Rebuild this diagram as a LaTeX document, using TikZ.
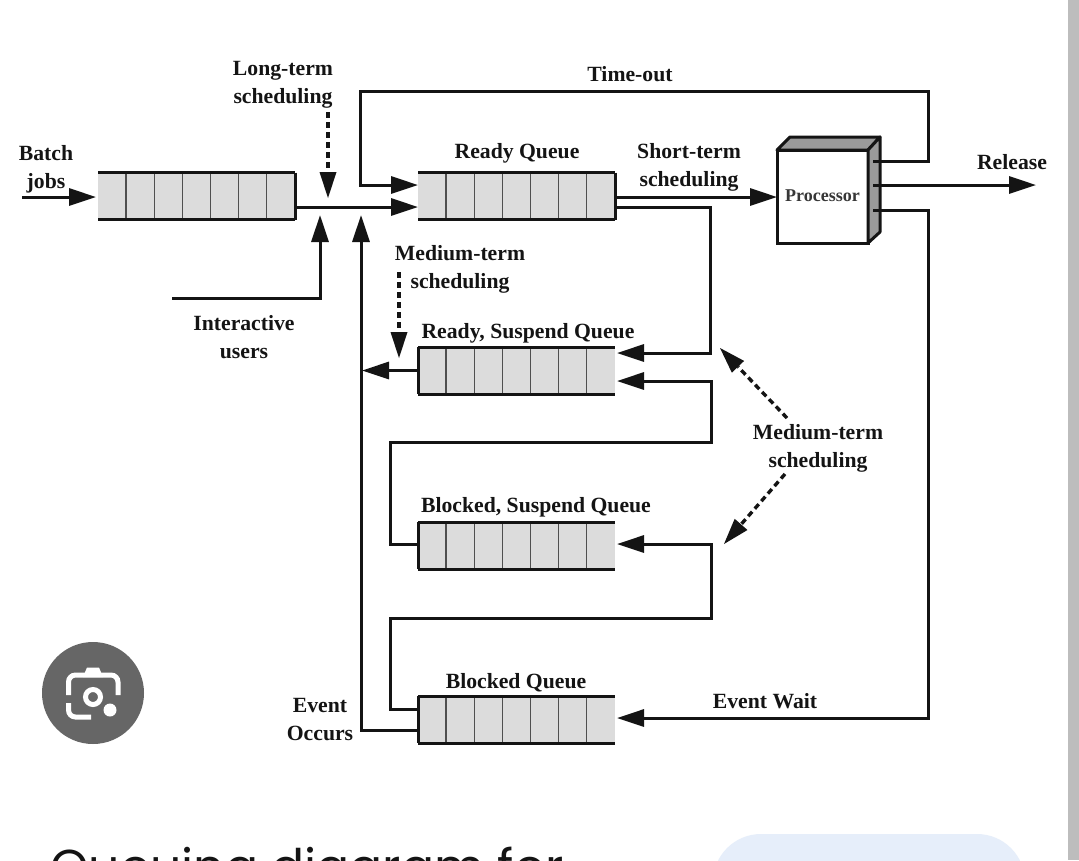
\documentclass[tikz,border=0pt]{standalone}
\usepackage{fontspec}
\setmainfont{Liberation Serif}
\newfontfamily\uifont{Poppins}
\usetikzlibrary{arrows.meta}
\definecolor{ink}{HTML}{141414}
\definecolor{cellgray}{HTML}{DCDCDC}
\definecolor{sidegray}{HTML}{9A9A9A}
\definecolor{stripgray}{HTML}{BDBDBD}
\definecolor{lensgray}{HTML}{666666}
\definecolor{pillblue}{HTML}{E6EEFA}
\tikzset{
  wire/.style={draw=ink,line width=3pt,line join=miter},
  arr/.style={wire,-{Triangle[length=27pt,width=17pt]}},
  darr/.style={draw=ink,line width=3.4pt,dash pattern=on 6pt off 4pt,-{Triangle[length=26pt,width=17pt,line width=0pt,sep=0pt]}},
  lbl/.style={font=\fontsize{21.7}{28}\selectfont\bfseries,text=ink,align=center,inner sep=0pt},
  qbox/.style={fill=cellgray,minimum width=197pt,minimum height=47pt,inner sep=0pt,outer sep=0pt},
  qedge/.style={draw=ink,line width=3pt},
  qcell/.style={draw=ink!75,line width=1.4pt}
}
% name, centre x, centre y, closed side
\newcommand\queuebox[4]{%
  \node[qbox] (#1) at (#2,#3) {};
  \foreach \i in {1,...,6}{\draw[qcell] ([xshift=\i*28.1pt]#1.north west) -- ([xshift=\i*28.1pt]#1.south west);}
  \draw[qedge] (#1.north #4) -- (#1.south #4);
  \draw[qedge] (#1.north west) -- (#1.north east);
  \draw[qedge] (#1.south west) -- (#1.south east);
}
\begin{document}
\begin{tikzpicture}[x=1pt,y=-1pt]
\useasboundingbox (0,0) rectangle (1079,860);
\begin{scope}
\clip (0,0) rectangle (1079,860);
\fill[white] (0,0) rectangle (1079,860);
\fill[stripgray] (1068,0) rectangle (1079,860);
\fill[pillblue,rounded corners=48pt] (713,834) rectangle (1025,960);
\node[font=\fontsize{49}{52}\selectfont\uifont,text=ink,anchor=base west,inner sep=0pt] (caption) at (50,884) {Queuing diagram for};
\end{scope}

% camera badge
\node[circle,fill=lensgray,minimum size=102pt,inner sep=0pt] (badge) at (93,693) {};
\draw[white,line width=5pt,rounded corners=7pt] (68.5,695) -- (68.5,675) -- (118,675) -- (118,695);
\fill[white] (83,677) -- (87,667.5) -- (99,667.5) -- (103,677) -- cycle;
\draw[white,line width=5pt,rounded corners=7pt] (68.5,703) -- (68.5,717) -- (91,717);
\draw[white,line width=5pt] (93,697) circle (7.5pt);
\fill[white] (110,710) circle (6.5pt);

% queues
\queuebox{qone}{196.5}{196}{east}
\queuebox{ready}{516.5}{196}{east}
\queuebox{rsusp}{516.5}{370.5}{west}
\queuebox{bsusp}{516.5}{545.5}{west}
\queuebox{blocked}{516.5}{719.5}{west}

% processor
\node[draw=ink,line width=3pt,fill=white,minimum width=91pt,minimum height=93pt,inner sep=0pt,outer sep=0pt,font=\fontsize{18}{20}\selectfont\bfseries,text=ink!85] (proc) at (822.5,196.5) {\raisebox{2pt}{Processor}};
\draw[draw=ink,line width=3pt,fill=sidegray,line join=round] (proc.north west) -- ([xshift=13pt,yshift=13pt]proc.north west) -- ([xshift=12pt,yshift=13pt]proc.north east) -- (proc.north east) -- cycle;
\draw[draw=ink,line width=3pt,fill=sidegray,line join=round] (proc.north east) -- ([xshift=12pt,yshift=13pt]proc.north east) -- ([xshift=12pt,yshift=11pt]proc.south east) -- (proc.south east) -- cycle;

% free ends
\coordinate (batchstart) at (22,197);
\coordinate (interstart) at (172,298);
\coordinate (longstart) at (328,112);
\coordinate (longend) at (328,198);
\coordinate (medstart) at (399,272);
\coordinate (medend) at (399,358);
\coordinate (relend) at (1036,185);
\coordinate (mergeA) at (320,215);
\coordinate (mergeB) at (361,215);
\coordinate (rsout) at (362,370.5);
\coordinate (dashAstart) at (787,418);
\coordinate (dashAend) at (720,348);
\coordinate (dashBstart) at (785,474);
\coordinate (dashBend) at (724,544);

% connectors
\draw[arr] (batchstart) -- ([xshift=-2pt]qone.west |- batchstart);
\draw[arr] ([yshift=-11pt]qone.east) -- ([yshift=-11pt]ready.west);
\draw[arr] (interstart) -| (mergeA);
\draw[darr] (longstart) -- (longend);
\draw[arr] ([xshift=5pt,yshift=35.5pt]proc.east) -- ++(55,0) -- ++(0,-70) -- (360,91) -- (360,185) -- ([yshift=11pt]ready.west);
\coordinate (shortout) at ([yshift=-1pt]ready.east);
\draw[arr] (shortout) -- (proc.west |- shortout);
\draw[arr] ([xshift=5pt,yshift=11.5pt]proc.east) -- (relend);
\draw[arr] ([yshift=-11pt]ready.east) -- ++(95,0) -- ++(0,146) -- ([xshift=2pt,yshift=17.5pt]rsusp.east);
\draw[arr] (rsusp.west) -- (rsout);
\draw[darr] (medstart) -- (medend);
\draw[arr] ([yshift=1.5pt]bsusp.west) -- ++(-28,0) -- ++(0,-102) -- ++(321,0) -- ++(0,-61) -- ([xshift=2pt,yshift=-10.5pt]rsusp.east);
\draw[arr] ([yshift=10.5pt]blocked.west) -- ++(-28,0) -- ++(0,-91) -- ++(321,0) -- ++(0,-74) -- ([xshift=2pt,yshift=1.5pt]bsusp.east);
\draw[arr] ([yshift=-10.5pt]blocked.west) -- (361,730) -- (mergeB);
\draw[arr] ([xshift=5pt,yshift=-13.5pt]proc.east) -- ++(55,0) -- ++(0,508) -- ([xshift=2pt,yshift=1.5pt]blocked.east);
\draw[darr] (dashAstart) -- (dashAend);
\draw[darr] (dashBstart) -- (dashBend);

% labels
\node[lbl] (l1) at (283,85) {Long-term\\scheduling};
\node[lbl] (l2) at (630,74) {Time-out};
\node[lbl] (l3) at (46,169) {Batch\\jobs};
\node[lbl] (l4) at (517,153) {Ready Queue};
\node[lbl] (l5) at (689,167) {Short-term\\scheduling};
\node[lbl] (l6) at (1012,162) {Release};
\node[lbl] (l7) at (460,269) {Medium-term\\scheduling};
\node[lbl] (l8) at (244,337) {Interactive\\users};
\node[lbl] (l9) at (528,333) {Ready, Suspend Queue};
\node[lbl] (l10) at (818,448) {Medium-term\\scheduling};
\node[lbl] (l11) at (536,507) {Blocked, Suspend Queue};
\node[lbl] (l12) at (516,683) {Blocked Queue};
\node[lbl] (l13) at (320,720) {Event\\Occurs};
\node[lbl] (l14) at (765,701) {Event Wait};
\end{tikzpicture}
\end{document}
